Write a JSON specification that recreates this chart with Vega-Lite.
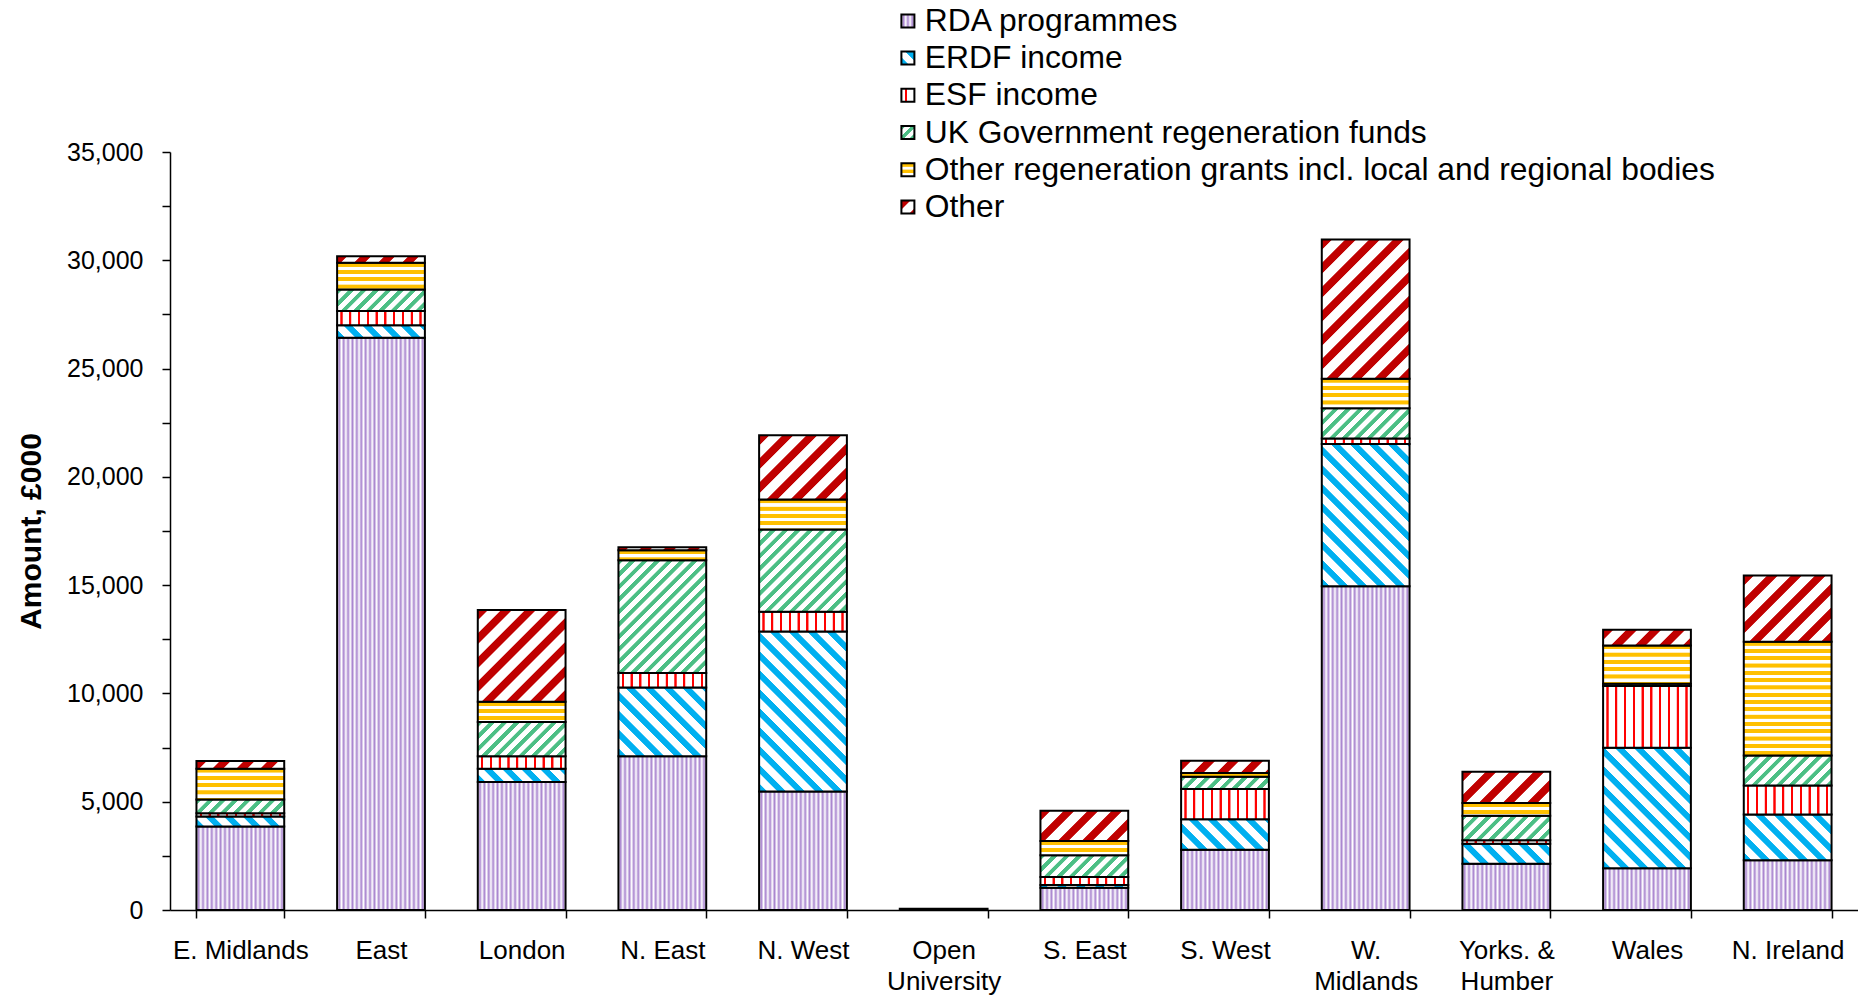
{
"$schema":"https://vega.github.io/schema/vega-lite/v6.json",
"width":1688,"height":758,
"autosize":{"type":"none"},
"padding":{"left":170,"top":152,"right":0,"bottom":85},
"background":"white",
"params":[
{"name":"sRDA","value":[{"offset":0,"color":"#fff"},{"offset":0.025,"color":"#a985cf"},{"offset":0.05,"color":"#fff"},{"offset":0.075,"color":"#a985cf"},{"offset":0.1,"color":"#fff"},{"offset":0.125,"color":"#a985cf"},{"offset":0.15,"color":"#fff"},{"offset":0.175,"color":"#a985cf"},{"offset":0.2,"color":"#fff"},{"offset":0.225,"color":"#a985cf"},{"offset":0.25,"color":"#fff"},{"offset":0.275,"color":"#a985cf"},{"offset":0.3,"color":"#fff"},{"offset":0.325,"color":"#a985cf"},{"offset":0.35,"color":"#fff"},{"offset":0.375,"color":"#a985cf"},{"offset":0.4,"color":"#fff"},{"offset":0.425,"color":"#a985cf"},{"offset":0.45,"color":"#fff"},{"offset":0.475,"color":"#a985cf"},{"offset":0.5,"color":"#fff"},{"offset":0.525,"color":"#a985cf"},{"offset":0.55,"color":"#fff"},{"offset":0.575,"color":"#a985cf"},{"offset":0.6,"color":"#fff"},{"offset":0.625,"color":"#a985cf"},{"offset":0.65,"color":"#fff"},{"offset":0.675,"color":"#a985cf"},{"offset":0.7,"color":"#fff"},{"offset":0.725,"color":"#a985cf"},{"offset":0.75,"color":"#fff"},{"offset":0.775,"color":"#a985cf"},{"offset":0.8,"color":"#fff"},{"offset":0.825,"color":"#a985cf"},{"offset":0.85,"color":"#fff"},{"offset":0.875,"color":"#a985cf"},{"offset":0.9,"color":"#fff"},{"offset":0.925,"color":"#a985cf"},{"offset":0.95,"color":"#fff"},{"offset":0.975,"color":"#a985cf"},{"offset":1,"color":"#fff"}]},
{"name":"sERDF","value":[{"offset":0,"color":"#00b0f0"},{"offset":0.02,"color":"#00b0f0"},{"offset":0.0225,"color":"#fff"},{"offset":0.0475,"color":"#fff"},{"offset":0.05,"color":"#00b0f0"},{"offset":0.07,"color":"#00b0f0"},{"offset":0.0725,"color":"#fff"},{"offset":0.0975,"color":"#fff"},{"offset":0.1,"color":"#00b0f0"},{"offset":0.12,"color":"#00b0f0"},{"offset":0.1225,"color":"#fff"},{"offset":0.1475,"color":"#fff"},{"offset":0.15,"color":"#00b0f0"},{"offset":0.17,"color":"#00b0f0"},{"offset":0.1725,"color":"#fff"},{"offset":0.1975,"color":"#fff"},{"offset":0.2,"color":"#00b0f0"},{"offset":0.22,"color":"#00b0f0"},{"offset":0.2225,"color":"#fff"},{"offset":0.2475,"color":"#fff"},{"offset":0.25,"color":"#00b0f0"},{"offset":0.27,"color":"#00b0f0"},{"offset":0.2725,"color":"#fff"},{"offset":0.2975,"color":"#fff"},{"offset":0.3,"color":"#00b0f0"},{"offset":0.32,"color":"#00b0f0"},{"offset":0.3225,"color":"#fff"},{"offset":0.3475,"color":"#fff"},{"offset":0.35,"color":"#00b0f0"},{"offset":0.37,"color":"#00b0f0"},{"offset":0.3725,"color":"#fff"},{"offset":0.3975,"color":"#fff"},{"offset":0.4,"color":"#00b0f0"},{"offset":0.42,"color":"#00b0f0"},{"offset":0.4225,"color":"#fff"},{"offset":0.4475,"color":"#fff"},{"offset":0.45,"color":"#00b0f0"},{"offset":0.47,"color":"#00b0f0"},{"offset":0.4725,"color":"#fff"},{"offset":0.4975,"color":"#fff"},{"offset":0.5,"color":"#00b0f0"},{"offset":0.52,"color":"#00b0f0"},{"offset":0.5225,"color":"#fff"},{"offset":0.5475,"color":"#fff"},{"offset":0.55,"color":"#00b0f0"},{"offset":0.57,"color":"#00b0f0"},{"offset":0.5725,"color":"#fff"},{"offset":0.5975,"color":"#fff"},{"offset":0.6,"color":"#00b0f0"},{"offset":0.62,"color":"#00b0f0"},{"offset":0.6225,"color":"#fff"},{"offset":0.6475,"color":"#fff"},{"offset":0.65,"color":"#00b0f0"},{"offset":0.67,"color":"#00b0f0"},{"offset":0.6725,"color":"#fff"},{"offset":0.6975,"color":"#fff"},{"offset":0.7,"color":"#00b0f0"},{"offset":0.72,"color":"#00b0f0"},{"offset":0.7225,"color":"#fff"},{"offset":0.7475,"color":"#fff"},{"offset":0.75,"color":"#00b0f0"},{"offset":0.77,"color":"#00b0f0"},{"offset":0.7725,"color":"#fff"},{"offset":0.7975,"color":"#fff"},{"offset":0.8,"color":"#00b0f0"},{"offset":0.82,"color":"#00b0f0"},{"offset":0.8225,"color":"#fff"},{"offset":0.8475,"color":"#fff"},{"offset":0.85,"color":"#00b0f0"},{"offset":0.87,"color":"#00b0f0"},{"offset":0.8725,"color":"#fff"},{"offset":0.8975,"color":"#fff"},{"offset":0.9,"color":"#00b0f0"},{"offset":0.92,"color":"#00b0f0"},{"offset":0.9225,"color":"#fff"},{"offset":0.9475,"color":"#fff"},{"offset":0.95,"color":"#00b0f0"},{"offset":0.97,"color":"#00b0f0"},{"offset":0.9725,"color":"#fff"},{"offset":0.9975,"color":"#fff"},{"offset":1,"color":"#00b0f0"}]},
{"name":"sUK","value":[{"offset":0,"color":"#4cbf85"},{"offset":0.02,"color":"#4cbf85"},{"offset":0.0225,"color":"#fff"},{"offset":0.0475,"color":"#fff"},{"offset":0.05,"color":"#4cbf85"},{"offset":0.07,"color":"#4cbf85"},{"offset":0.0725,"color":"#fff"},{"offset":0.0975,"color":"#fff"},{"offset":0.1,"color":"#4cbf85"},{"offset":0.12,"color":"#4cbf85"},{"offset":0.1225,"color":"#fff"},{"offset":0.1475,"color":"#fff"},{"offset":0.15,"color":"#4cbf85"},{"offset":0.17,"color":"#4cbf85"},{"offset":0.1725,"color":"#fff"},{"offset":0.1975,"color":"#fff"},{"offset":0.2,"color":"#4cbf85"},{"offset":0.22,"color":"#4cbf85"},{"offset":0.2225,"color":"#fff"},{"offset":0.2475,"color":"#fff"},{"offset":0.25,"color":"#4cbf85"},{"offset":0.27,"color":"#4cbf85"},{"offset":0.2725,"color":"#fff"},{"offset":0.2975,"color":"#fff"},{"offset":0.3,"color":"#4cbf85"},{"offset":0.32,"color":"#4cbf85"},{"offset":0.3225,"color":"#fff"},{"offset":0.3475,"color":"#fff"},{"offset":0.35,"color":"#4cbf85"},{"offset":0.37,"color":"#4cbf85"},{"offset":0.3725,"color":"#fff"},{"offset":0.3975,"color":"#fff"},{"offset":0.4,"color":"#4cbf85"},{"offset":0.42,"color":"#4cbf85"},{"offset":0.4225,"color":"#fff"},{"offset":0.4475,"color":"#fff"},{"offset":0.45,"color":"#4cbf85"},{"offset":0.47,"color":"#4cbf85"},{"offset":0.4725,"color":"#fff"},{"offset":0.4975,"color":"#fff"},{"offset":0.5,"color":"#4cbf85"},{"offset":0.52,"color":"#4cbf85"},{"offset":0.5225,"color":"#fff"},{"offset":0.5475,"color":"#fff"},{"offset":0.55,"color":"#4cbf85"},{"offset":0.57,"color":"#4cbf85"},{"offset":0.5725,"color":"#fff"},{"offset":0.5975,"color":"#fff"},{"offset":0.6,"color":"#4cbf85"},{"offset":0.62,"color":"#4cbf85"},{"offset":0.6225,"color":"#fff"},{"offset":0.6475,"color":"#fff"},{"offset":0.65,"color":"#4cbf85"},{"offset":0.67,"color":"#4cbf85"},{"offset":0.6725,"color":"#fff"},{"offset":0.6975,"color":"#fff"},{"offset":0.7,"color":"#4cbf85"},{"offset":0.72,"color":"#4cbf85"},{"offset":0.7225,"color":"#fff"},{"offset":0.7475,"color":"#fff"},{"offset":0.75,"color":"#4cbf85"},{"offset":0.77,"color":"#4cbf85"},{"offset":0.7725,"color":"#fff"},{"offset":0.7975,"color":"#fff"},{"offset":0.8,"color":"#4cbf85"},{"offset":0.82,"color":"#4cbf85"},{"offset":0.8225,"color":"#fff"},{"offset":0.8475,"color":"#fff"},{"offset":0.85,"color":"#4cbf85"},{"offset":0.87,"color":"#4cbf85"},{"offset":0.8725,"color":"#fff"},{"offset":0.8975,"color":"#fff"},{"offset":0.9,"color":"#4cbf85"},{"offset":0.92,"color":"#4cbf85"},{"offset":0.9225,"color":"#fff"},{"offset":0.9475,"color":"#fff"},{"offset":0.95,"color":"#4cbf85"},{"offset":0.97,"color":"#4cbf85"},{"offset":0.9725,"color":"#fff"},{"offset":0.9975,"color":"#fff"},{"offset":1,"color":"#4cbf85"}]},
{"name":"sESF","value":[{"offset":0,"color":"#fff"},{"offset":0.035,"color":"#fff"},{"offset":0.04,"color":"#ff0000"},{"offset":0.06,"color":"#ff0000"},{"offset":0.065,"color":"#fff"},{"offset":0.135,"color":"#fff"},{"offset":0.14,"color":"#ff0000"},{"offset":0.16,"color":"#ff0000"},{"offset":0.165,"color":"#fff"},{"offset":0.235,"color":"#fff"},{"offset":0.24,"color":"#ff0000"},{"offset":0.26,"color":"#ff0000"},{"offset":0.265,"color":"#fff"},{"offset":0.335,"color":"#fff"},{"offset":0.34,"color":"#ff0000"},{"offset":0.36,"color":"#ff0000"},{"offset":0.365,"color":"#fff"},{"offset":0.435,"color":"#fff"},{"offset":0.44,"color":"#ff0000"},{"offset":0.46,"color":"#ff0000"},{"offset":0.465,"color":"#fff"},{"offset":0.535,"color":"#fff"},{"offset":0.54,"color":"#ff0000"},{"offset":0.56,"color":"#ff0000"},{"offset":0.565,"color":"#fff"},{"offset":0.635,"color":"#fff"},{"offset":0.64,"color":"#ff0000"},{"offset":0.66,"color":"#ff0000"},{"offset":0.665,"color":"#fff"},{"offset":0.735,"color":"#fff"},{"offset":0.74,"color":"#ff0000"},{"offset":0.76,"color":"#ff0000"},{"offset":0.765,"color":"#fff"},{"offset":0.835,"color":"#fff"},{"offset":0.84,"color":"#ff0000"},{"offset":0.86,"color":"#ff0000"},{"offset":0.865,"color":"#fff"},{"offset":0.935,"color":"#fff"},{"offset":0.94,"color":"#ff0000"},{"offset":0.96,"color":"#ff0000"},{"offset":0.965,"color":"#fff"},{"offset":1,"color":"#fff"}]},
{"name":"sYel","value":[{"offset":0,"color":"#ffc000"},{"offset":0.025,"color":"#ffc000"},{"offset":0.0275,"color":"#fff"},{"offset":0.0475,"color":"#fff"},{"offset":0.05,"color":"#ffc000"},{"offset":0.075,"color":"#ffc000"},{"offset":0.0775,"color":"#fff"},{"offset":0.0975,"color":"#fff"},{"offset":0.1,"color":"#ffc000"},{"offset":0.125,"color":"#ffc000"},{"offset":0.1275,"color":"#fff"},{"offset":0.1475,"color":"#fff"},{"offset":0.15,"color":"#ffc000"},{"offset":0.175,"color":"#ffc000"},{"offset":0.1775,"color":"#fff"},{"offset":0.1975,"color":"#fff"},{"offset":0.2,"color":"#ffc000"},{"offset":0.225,"color":"#ffc000"},{"offset":0.2275,"color":"#fff"},{"offset":0.2475,"color":"#fff"},{"offset":0.25,"color":"#ffc000"},{"offset":0.275,"color":"#ffc000"},{"offset":0.2775,"color":"#fff"},{"offset":0.2975,"color":"#fff"},{"offset":0.3,"color":"#ffc000"},{"offset":0.325,"color":"#ffc000"},{"offset":0.3275,"color":"#fff"},{"offset":0.3475,"color":"#fff"},{"offset":0.35,"color":"#ffc000"},{"offset":0.375,"color":"#ffc000"},{"offset":0.3775,"color":"#fff"},{"offset":0.3975,"color":"#fff"},{"offset":0.4,"color":"#ffc000"},{"offset":0.425,"color":"#ffc000"},{"offset":0.4275,"color":"#fff"},{"offset":0.4475,"color":"#fff"},{"offset":0.45,"color":"#ffc000"},{"offset":0.475,"color":"#ffc000"},{"offset":0.4775,"color":"#fff"},{"offset":0.4975,"color":"#fff"},{"offset":0.5,"color":"#ffc000"},{"offset":0.525,"color":"#ffc000"},{"offset":0.5275,"color":"#fff"},{"offset":0.5475,"color":"#fff"},{"offset":0.55,"color":"#ffc000"},{"offset":0.575,"color":"#ffc000"},{"offset":0.5775,"color":"#fff"},{"offset":0.5975,"color":"#fff"},{"offset":0.6,"color":"#ffc000"},{"offset":0.625,"color":"#ffc000"},{"offset":0.6275,"color":"#fff"},{"offset":0.6475,"color":"#fff"},{"offset":0.65,"color":"#ffc000"},{"offset":0.675,"color":"#ffc000"},{"offset":0.6775,"color":"#fff"},{"offset":0.6975,"color":"#fff"},{"offset":0.7,"color":"#ffc000"},{"offset":0.725,"color":"#ffc000"},{"offset":0.7275,"color":"#fff"},{"offset":0.7475,"color":"#fff"},{"offset":0.75,"color":"#ffc000"},{"offset":0.775,"color":"#ffc000"},{"offset":0.7775,"color":"#fff"},{"offset":0.7975,"color":"#fff"},{"offset":0.8,"color":"#ffc000"},{"offset":0.825,"color":"#ffc000"},{"offset":0.8275,"color":"#fff"},{"offset":0.8475,"color":"#fff"},{"offset":0.85,"color":"#ffc000"},{"offset":0.875,"color":"#ffc000"},{"offset":0.8775,"color":"#fff"},{"offset":0.8975,"color":"#fff"},{"offset":0.9,"color":"#ffc000"},{"offset":0.925,"color":"#ffc000"},{"offset":0.9275,"color":"#fff"},{"offset":0.9475,"color":"#fff"},{"offset":0.95,"color":"#ffc000"},{"offset":0.975,"color":"#ffc000"},{"offset":0.9775,"color":"#fff"},{"offset":0.9975,"color":"#fff"},{"offset":1,"color":"#ffc000"}]},
{"name":"sOther","value":[{"offset":0,"color":"#c00000"},{"offset":0.04,"color":"#c00000"},{"offset":0.045,"color":"#fff"},{"offset":0.095,"color":"#fff"},{"offset":0.1,"color":"#c00000"},{"offset":0.14,"color":"#c00000"},{"offset":0.145,"color":"#fff"},{"offset":0.195,"color":"#fff"},{"offset":0.2,"color":"#c00000"},{"offset":0.24,"color":"#c00000"},{"offset":0.245,"color":"#fff"},{"offset":0.295,"color":"#fff"},{"offset":0.3,"color":"#c00000"},{"offset":0.34,"color":"#c00000"},{"offset":0.345,"color":"#fff"},{"offset":0.395,"color":"#fff"},{"offset":0.4,"color":"#c00000"},{"offset":0.44,"color":"#c00000"},{"offset":0.445,"color":"#fff"},{"offset":0.495,"color":"#fff"},{"offset":0.5,"color":"#c00000"},{"offset":0.54,"color":"#c00000"},{"offset":0.545,"color":"#fff"},{"offset":0.595,"color":"#fff"},{"offset":0.6,"color":"#c00000"},{"offset":0.64,"color":"#c00000"},{"offset":0.645,"color":"#fff"},{"offset":0.695,"color":"#fff"},{"offset":0.7,"color":"#c00000"},{"offset":0.74,"color":"#c00000"},{"offset":0.745,"color":"#fff"},{"offset":0.795,"color":"#fff"},{"offset":0.8,"color":"#c00000"},{"offset":0.84,"color":"#c00000"},{"offset":0.845,"color":"#fff"},{"offset":0.895,"color":"#fff"},{"offset":0.9,"color":"#c00000"},{"offset":0.94,"color":"#c00000"},{"offset":0.945,"color":"#fff"},{"offset":0.995,"color":"#fff"},{"offset":1,"color":"#c00000"}]}
],
"data":{"values":[
{"region":"E. Midlands","series":"RDA programmes","k":1,"amount":3850},
{"region":"E. Midlands","series":"ERDF income","k":2,"amount":470},
{"region":"E. Midlands","series":"ESF income","k":3,"amount":145},
{"region":"E. Midlands","series":"UK Government regeneration funds","k":4,"amount":640},
{"region":"E. Midlands","series":"Other regeneration grants incl. local and regional bodies","k":5,"amount":1420},
{"region":"E. Midlands","series":"Other","k":6,"amount":350},
{"region":"East","series":"RDA programmes","k":1,"amount":26425},
{"region":"East","series":"ERDF income","k":2,"amount":576},
{"region":"East","series":"ESF income","k":3,"amount":659},
{"region":"East","series":"UK Government regeneration funds","k":4,"amount":988},
{"region":"East","series":"Other regeneration grants incl. local and regional bodies","k":5,"amount":1234},
{"region":"East","series":"Other","k":6,"amount":309},
{"region":"London","series":"RDA programmes","k":1,"amount":5906},
{"region":"London","series":"ERDF income","k":2,"amount":618},
{"region":"London","series":"ESF income","k":3,"amount":576},
{"region":"London","series":"UK Government regeneration funds","k":4,"amount":1585},
{"region":"London","series":"Other regeneration grants incl. local and regional bodies","k":5,"amount":926},
{"region":"London","series":"Other","k":6,"amount":4239},
{"region":"N. East","series":"RDA programmes","k":1,"amount":7100},
{"region":"N. East","series":"ERDF income","k":2,"amount":3169},
{"region":"N. East","series":"ESF income","k":3,"amount":680},
{"region":"N. East","series":"UK Government regeneration funds","k":4,"amount":5206},
{"region":"N. East","series":"Other regeneration grants incl. local and regional bodies","k":5,"amount":453},
{"region":"N. East","series":"Other","k":6,"amount":144},
{"region":"N. West","series":"RDA programmes","k":1,"amount":5474},
{"region":"N. West","series":"ERDF income","k":2,"amount":7389},
{"region":"N. West","series":"ESF income","k":3,"amount":905},
{"region":"N. West","series":"UK Government regeneration funds","k":4,"amount":3807},
{"region":"N. West","series":"Other regeneration grants incl. local and regional bodies","k":5,"amount":1379},
{"region":"N. West","series":"Other","k":6,"amount":2964},
{"region":"Open University","series":"RDA programmes","k":1,"amount":60},
{"region":"S. East","series":"RDA programmes","k":1,"amount":1026},
{"region":"S. East","series":"ERDF income","k":2,"amount":125},
{"region":"S. East","series":"ESF income","k":3,"amount":377},
{"region":"S. East","series":"UK Government regeneration funds","k":4,"amount":1005},
{"region":"S. East","series":"Other regeneration grants incl. local and regional bodies","k":5,"amount":649},
{"region":"S. East","series":"Other","k":6,"amount":1402},
{"region":"S. West","series":"RDA programmes","k":1,"amount":2784},
{"region":"S. West","series":"ERDF income","k":2,"amount":1402},
{"region":"S. West","series":"ESF income","k":3,"amount":1402},
{"region":"S. West","series":"UK Government regeneration funds","k":4,"amount":565},
{"region":"S. West","series":"Other regeneration grants incl. local and regional bodies","k":5,"amount":168},
{"region":"S. West","series":"Other","k":6,"amount":565},
{"region":"W. Midlands","series":"RDA programmes","k":1,"amount":14944},
{"region":"W. Midlands","series":"ERDF income","k":2,"amount":6572},
{"region":"W. Midlands","series":"ESF income","k":3,"amount":251},
{"region":"W. Midlands","series":"UK Government regeneration funds","k":4,"amount":1402},
{"region":"W. Midlands","series":"Other regeneration grants incl. local and regional bodies","k":5,"amount":1361},
{"region":"W. Midlands","series":"Other","k":6,"amount":6425},
{"region":"Yorks. & Humber","series":"RDA programmes","k":1,"amount":2138},
{"region":"Yorks. & Humber","series":"ERDF income","k":2,"amount":923},
{"region":"Yorks. & Humber","series":"ESF income","k":3,"amount":154},
{"region":"Yorks. & Humber","series":"UK Government regeneration funds","k":4,"amount":1139},
{"region":"Yorks. & Humber","series":"Other regeneration grants incl. local and regional bodies","k":5,"amount":585},
{"region":"Yorks. & Humber","series":"Other","k":6,"amount":1446},
{"region":"Wales","series":"RDA programmes","k":1,"amount":1923},
{"region":"Wales","series":"ERDF income","k":2,"amount":5569},
{"region":"Wales","series":"ESF income","k":3,"amount":2846},
{"region":"Wales","series":"UK Government regeneration funds","k":4,"amount":108},
{"region":"Wales","series":"Other regeneration grants incl. local and regional bodies","k":5,"amount":1769},
{"region":"Wales","series":"Other","k":6,"amount":723},
{"region":"N. Ireland","series":"RDA programmes","k":1,"amount":2292},
{"region":"N. Ireland","series":"ERDF income","k":2,"amount":2123},
{"region":"N. Ireland","series":"ESF income","k":3,"amount":1338},
{"region":"N. Ireland","series":"UK Government regeneration funds","k":4,"amount":1385},
{"region":"N. Ireland","series":"Other regeneration grants incl. local and regional bodies","k":5,"amount":5246},
{"region":"N. Ireland","series":"Other","k":6,"amount":3062}
]},
"encoding":{
"x":{"field":"region","type":"nominal","sort":null,
 "scale":{"paddingInner":0.376,"paddingOuter":0.188},
 "axis":{"title":null,"labelAngle":0,"labelFontSize":26,"labelPadding":19,"tickSize":8,"tickBand":"extent","labelLineHeight":31,
  "labelExpr":"datum.label==='Open University'?['Open','University']:datum.label==='W. Midlands'?['W.','Midlands']:datum.label==='Yorks. & Humber'?['Yorks. &','Humber']:datum.label",
  "domainColor":"black","domainWidth":1.5,"tickColor":"black","tickWidth":1.5,"labelColor":"black","labelLimit":400}},
"y":{"field":"amount","type":"quantitative","stack":"zero",
 "scale":{"domain":[0,35000],"nice":false,"zero":true},
 "axis":{"values":[0,2500,5000,7500,10000,12500,15000,17500,20000,22500,25000,27500,30000,32500,35000],
  "labelExpr":"datum.value % 5000 === 0 ? format(datum.value, ',') : ''",
  "title":"Amount, £000","titleFontSize":30,"titleFontWeight":"bold","titlePadding":20,"titleColor":"black",
  "labelFontSize":25,"labelPadding":19,"labelFlush":false,"labelOverlap":false,"tickSize":8,"grid":false,
  "domainColor":"black","domainWidth":1.5,"tickColor":"black","tickWidth":1.5,"labelColor":"black"}},
"order":{"field":"k","type":"quantitative"}
},
"layer":[
{"mark":{"type":"bar"},
 "encoding":{"color":{"field":"series","type":"nominal",
  "scale":{"domain":["RDA programmes","ERDF income","ESF income","UK Government regeneration funds","Other regeneration grants incl. local and regional bodies","Other"],
   "range":[
    {"expr":"{gradient:'linear',x1:0,y1:0,x2:6.7,y2:0,stops:sRDA}"},
    {"expr":"{gradient:'linear',x1:0,y1:1,x2:13.3,y2:-12.3,stops:sERDF}"},
    {"expr":"{gradient:'linear',x1:0,y1:0,x2:7,y2:0,stops:sESF}"},
    {"expr":"{gradient:'linear',x1:0,y1:0,x2:8,y2:8,stops:sUK}"},
    {"expr":"{gradient:'linear',x1:0,y1:0,x2:0,y2:10,stops:sYel}"},
    {"expr":"{gradient:'linear',x1:0,y1:0,x2:8.3,y2:8.3,stops:sOther}"}]},
  "legend":{"orient":"none","legendX":722,"legendY":-147,"title":null,"labelFontSize":31.8,"symbolType":"square","symbolSize":169,
   "symbolStrokeColor":"black","symbolStrokeWidth":2,"rowPadding":4.2,"labelOffset":1,"padding":0,"labelLimit":1200,"labelColor":"black"}}}},
{"mark":{"type":"bar","stroke":"black","strokeWidth":2,
 "fill":{"expr":"datum.series==='RDA programmes'?{gradient:'linear',x1:0,y1:0,x2:1,y2:0,stops:sRDA}:datum.series==='ERDF income'?{gradient:'linear',x1:0,y1:1,x2:33276/(7709+pow(max(datum.amount*0.021657,0.6),2)),y2:1-379*max(datum.amount*0.021657,0.6)/(7709+pow(max(datum.amount*0.021657,0.6),2)),stops:sERDF}:datum.series==='ESF income'?{gradient:'linear',x1:0,y1:0,x2:1,y2:0,stops:sESF}:datum.series==='UK Government regeneration funds'?{gradient:'linear',x1:0,y1:0,x2:21862/(7709+pow(max(datum.amount*0.021657,0.6),2)),y2:249*max(datum.amount*0.021657,0.6)/(7709+pow(max(datum.amount*0.021657,0.6),2)),stops:sUK}:datum.series==='Other'?{gradient:'linear',x1:0,y1:0,x2:21072/(7709+pow(max(datum.amount*0.021657,0.6),2)),y2:240*max(datum.amount*0.021657,0.6)/(7709+pow(max(datum.amount*0.021657,0.6),2)),stops:sOther}:{gradient:'linear',x1:0,y1:0,x2:0,y2:146/max(datum.amount*0.021657,0.6),stops:sYel}"}},
 "encoding":{"detail":{"field":"series"}}}
],
"config":{"font":"Liberation Sans","view":{"stroke":null}}
}
